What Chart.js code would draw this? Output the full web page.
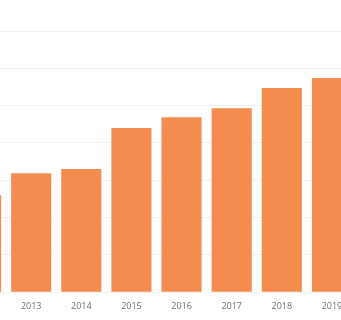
<!DOCTYPE html>
<html>
<head>
<meta charset="utf-8">
<script src="https://cdn.jsdelivr.net/npm/chart.js@4/dist/chart.umd.min.js"></script>
<style>
    html, body { margin: 0; padding: 0; background: #fff; }
    #wrap { position: relative; width: 341px; height: 320px; overflow: hidden; }
    #holder { position: absolute; left: -44px; top: 0; width: 401px; height: 328px; }
</style>
</head>
<body>
<div id="wrap">
    <div id="holder"><canvas id="bars"></canvas></div>
</div>
<script>
// Years along the bottom (2012 and 2019 are cut off by the frame)
const years = ['2012', '2013', '2014', '2015', '2016', '2017', '2018', '2019'];
// Bar heights, in gridline steps
const values = [2.6, 3.19, 3.3, 4.4, 4.69, 4.93, 5.47, 5.74];
// Gridline values
const gridTicks = [0, 1, 2, 3, 4, 5, 6, 7];

const ctx = document.getElementById('bars').getContext('2d');

new Chart(ctx, {
    type: 'bar',
    data: {
        labels: years,
        datasets: [{
            data: values,
            backgroundColor: '#f58c4f',
            borderWidth: 0,
            barPercentage: 0.8,
            categoryPercentage: 1.0
        }]
    },
    options: {
        responsive: true,
        maintainAspectRatio: false,
        animation: false,
        layout: {
            padding: { top: 31, left: 0, right: 0, bottom: 7 }
        },
        plugins: {
            legend: { display: false },
            tooltip: { enabled: false }
        },
        scales: {
            x: {
                grid: { display: false, drawTicks: false },
                border: { display: false },
                ticks: {
                    padding: 9,
                    color: '#6f6f6f',
                    font: { family: 'Open Sans', size: 9 }
                }
            },
            y: {
                min: 0,
                max: 7,
                afterBuildTicks: function(axis) {
                    axis.ticks = gridTicks.map(v => ({ value: v }));
                },
                grid: { color: 'rgba(0,0,0,0.05)', drawTicks: false },
                border: { display: false },
                ticks: { display: false }
            }
        }
    }
});
</script>
</body>
</html>
